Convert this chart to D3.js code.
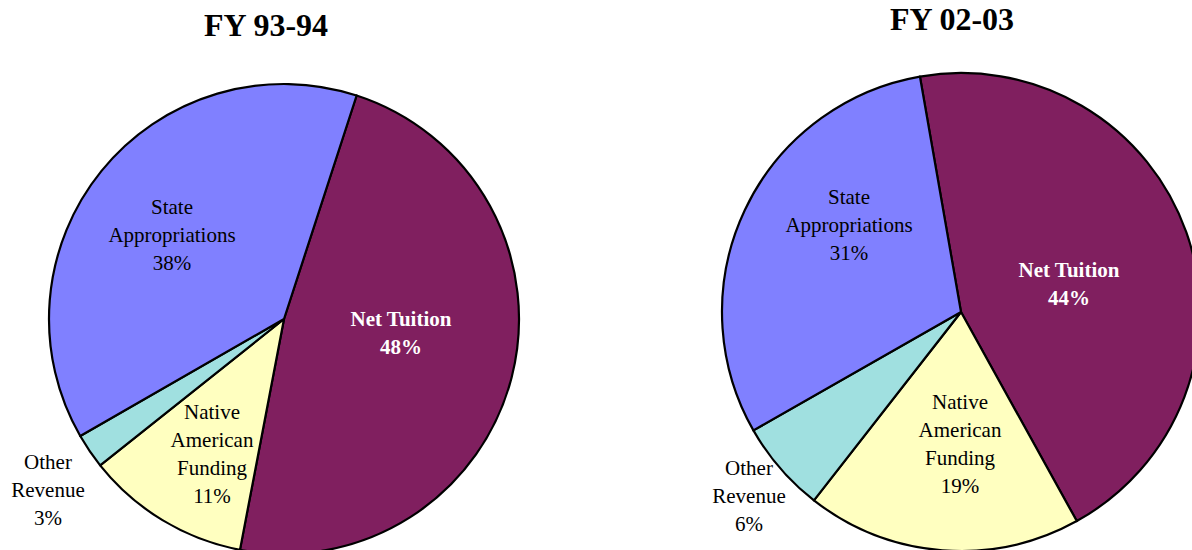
<!DOCTYPE html>
<html>
<head>
<meta charset="utf-8">
<script src="https://cdn.jsdelivr.net/npm/d3@7"></script>
<style>
  html, body { margin: 0; padding: 0; background: #fff; }
  svg { display: block; }
  text { font-family: "Liberation Serif", "Times New Roman", serif; }
</style>
</head>
<body>
<svg id="chart" width="1192" height="550"></svg>
<script>
// categories, clockwise from the first slice
var categories = ['Net Tuition', 'Native American Funding', 'Other Revenue', 'State Appropriations'];
var labelLines = [['Net Tuition'], ['Native', 'American', 'Funding'], ['Other', 'Revenue'], ['State', 'Appropriations']];
var colors = ['#801f5f', '#ffffc0', '#a0e0e0', '#8080ff'];

// FY 93-94 (shares, labels as printed)
var values9394 = [48.0, 11.3, 2.4, 38.3];
var labels9394 = ['48%', '11%', '3%', '38%'];
// FY 02-03
var values0203 = [44.7, 18.6, 6.2, 30.5];
var labels0203 = ['44%', '19%', '6%', '31%'];

var titles = ['FY 93-94', 'FY 02-03'];

// layout (not data)
var pies = [
    { title: titles[0], values: values9394, labels: labels9394, cx: 284, cy: 319, r: 235, start: 18.0,
      titleX: 266, titleY: 36,
      labelPos: [[117, 13.5], [-72, 135], [-236, 171], [-112, -84]] },
    { title: titles[1], values: values0203, labels: labels0203, cx: 961, cy: 312, r: 239, start: -9.9,
      titleX: 952, titleY: 30,
      labelPos: [[108, -28], [-1, 132], [-212, 184], [-112, -87]] }
];

var svg = d3.select('#chart');
var lineH = 28;

pies.forEach(function(p, pi) {
    var data = p.values.map(function(v, i) { return { value: v, idx: i }; });
    var pie = d3.pie().sort(null).value(function(d) { return d.value; })
        .startAngle(p.start * Math.PI / 180)
        .endAngle((p.start + 360) * Math.PI / 180);
    var arc = d3.arc().innerRadius(0).outerRadius(p.r);

    var g = svg.append('g').attr('transform', 'translate(' + p.cx + ',' + p.cy + ')');

    g.selectAll('path').data(pie(data))
        .enter().append('path')
        .attr('d', arc)
        .attr('fill', function(d) { return colors[d.data.idx]; })
        .attr('stroke', '#000')
        .attr('stroke-width', 2.2)
        .attr('stroke-linejoin', 'round');

    //Labels
    categories.forEach(function(c, i) {
        var lines = labelLines[i].concat([p.labels[i]]);
        var pos = p.labelPos[i];
        var isTuition = i === 0;
        var t = g.append('text')
            .attr('text-anchor', 'middle')
            .attr('font-size', 21)
            .attr('font-weight', isTuition ? 'bold' : 'normal')
            .attr('fill', isTuition ? '#fff' : '#000');
        var y0 = pos[1] - (lines.length - 1) * lineH / 2;
        lines.forEach(function(l, k) {
            t.append('tspan')
                .attr('x', pos[0])
                .attr('y', y0 + k * lineH)
                .attr('dy', '0.35em')
                .text(l);
        });
    });

    svg.append('text')
        .attr('x', p.titleX)
        .attr('y', p.titleY)
        .attr('text-anchor', 'middle')
        .attr('font-size', 32)
        .attr('font-weight', 'bold')
        .text(p.title);
});
</script>
</body>
</html>
